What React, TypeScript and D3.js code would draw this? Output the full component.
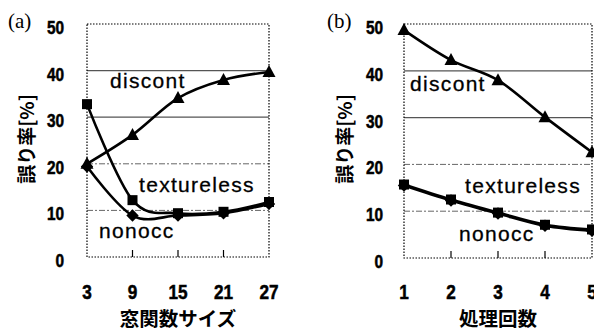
import React from "react";
import * as d3 from "d3";

// ---- data ----
const windowSizes = [3, 9, 15, 21, 27];
const aDiscont = [20, 26.2, 34.1, 38, 39.7];
const aTextureless = [32.8, 12.2, 9.4, 9.7, 11.8];
const aNonocc = [19.4, 8.9, 8.9, 9.4, 11.4];

const iterations = [1, 2, 3, 4, 5];
const bDiscont = [48.7, 42.3, 38, 30.1, 22.6];
const bTextureless = [15.7, 12.5, 9.7, 7.1, 6.1];
const bNonocc = [15.5, 12.3, 9.5, 6.9, 5.8];

const yTicks = [0, 10, 20, 30, 40, 50];
const solidGrid = [30, 40];
const dashedGrid = [10, 20];

type Series = { name: string; values: number[]; marker: "diamond" | "square" | "triangle" };

const W = 594;
const H = 331;

function Marker({ kind, x, y }: { kind: string; x: number; y: number }) {
  if (kind === "triangle") {
    const s = 6.5;
    return <path d={`M${x},${y - 7} L${x + s},${y + 5} L${x - s},${y + 5} Z`} fill="#000" />;
  }
  if (kind === "square") {
    const s = 5;
    return <rect x={x - s} y={y - s} width={s * 2} height={s * 2} fill="#000" />;
  }
  const s = 6.2;
  return <path d={`M${x},${y - s} L${x + s},${y} L${x},${y + s} L${x - s},${y} Z`} fill="#000" />;
}

function Panel({
  tag,
  tagX,
  xs,
  series,
  x0,
  x1,
  y0,
  y1,
  yLabelRight,
  yTitleX,
  xTitle,
  labels,
  ticksInner,
}: {
  tag: string;
  tagX: number;
  xs: number[];
  series: Series[];
  x0: number;
  x1: number;
  y0: number;
  y1: number;
  yLabelRight: number;
  yTitleX: number;
  xTitle: string;
  labels: { text: string; x: number; y: number }[];
  ticksInner: number[];
}) {
  const x = d3.scaleLinear().domain([xs[0], xs[xs.length - 1]]).range([x0, x1]);
  const y = d3.scaleLinear().domain([0, 50]).range([y1, y0]);
  const line = d3
    .line<number>()
    .x((_, i) => x(xs[i]))
    .y((d) => y(d))
    .curve(d3.curveCardinal.tension(0));
  const numFont = "'Liberation Sans', Arial, sans-serif";
  const cjk = "'Noto Sans CJK JP', sans-serif";
  return (
    <g>
      <text x={tagX} y={28} fontFamily="'Liberation Serif', serif" fontSize={21} fill="#000">
        {tag}
      </text>
      {solidGrid.map((v) => (
        <line key={"s" + v} x1={x0} x2={x1} y1={y(v)} y2={y(v)} stroke="#555" strokeWidth={1.3} />
      ))}
      {dashedGrid.map((v) => (
        <line
          key={"d" + v}
          x1={x0}
          x2={x1}
          y1={y(v)}
          y2={y(v)}
          stroke="#666"
          strokeWidth={1}
          strokeDasharray="6 2 2 2"
        />
      ))}
      <rect
        x={x0}
        y={y0}
        width={x1 - x0}
        height={y1 - y0}
        fill="none"
        stroke="#000"
        strokeWidth={1.2}
        strokeDasharray="1.5 1.5"
      />
      {ticksInner.map((v) => (
        <line key={"t" + v} x1={x(v)} x2={x(v)} y1={y1} y2={y1 - 7} stroke="#000" strokeWidth={1.2} />
      ))}
      {series.map((s) => (
        <g key={s.name}>
          <path d={line(s.values) || ""} fill="none" stroke="#000" strokeWidth={2.6} />
          {s.values.map((v, i) => (
            <Marker key={i} kind={s.marker} x={x(xs[i])} y={y(v)} />
          ))}
        </g>
      ))}
      {labels.map((l) => (
        <text
          key={l.text}
          x={x(l.x)}
          y={y(l.y)}
          fontFamily="'Liberation Sans', Arial, sans-serif"
          fontSize={21}
          letterSpacing={1.3}
          fill="#000"
          stroke="#000"
          strokeWidth={0.3}
        >
          {l.text}
        </text>
      ))}
      {yTicks.map((v) => (
        <text
          key={"yl" + v}
          transform={`translate(${yLabelRight},${y(v) + 10}) scale(0.88,1)`}
          textAnchor="end"
          fontFamily={numFont}
          fontWeight="bold"
          fontSize={17.5}
          fill="#000"
          stroke="#000"
          strokeWidth={0.5}
        >
          {v}
        </text>
      ))}
      {xs.map((v) => (
        <text
          key={"xl" + v}
          transform={`translate(${x(v)},${299}) scale(0.86,1)`}
          textAnchor="middle"
          fontFamily={numFont}
          fontWeight="bold"
          fontSize={20}
          fill="#000"
          stroke="#000"
          strokeWidth={0.5}
        >
          {v}
        </text>
      ))}
      <text
        transform={`translate(${yTitleX},${139}) rotate(-90)`}
        textAnchor="middle"
        dominantBaseline="central"
        fontFamily={cjk}
        fontWeight="bold"
        fontSize={19}
        fill="#000"
      >
        誤り率[%]
      </text>
      <text
        x={(x0 + x1) / 2}
        y={326}
        textAnchor="middle"
        fontFamily={cjk}
        fontWeight="bold"
        fontSize={19.5}
        fill="#000"
      >
        {xTitle}
      </text>
    </g>
  );
}

export default function App() {
  const seriesA: Series[] = [
    { name: "nonocc", values: aNonocc, marker: "diamond" },
    { name: "textureless", values: aTextureless, marker: "square" },
    { name: "discont", values: aDiscont, marker: "triangle" },
  ];
  const seriesB: Series[] = [
    { name: "nonocc", values: bNonocc, marker: "diamond" },
    { name: "textureless", values: bTextureless, marker: "square" },
    { name: "discont", values: bDiscont, marker: "triangle" },
  ];
  return (
    <svg
      width={W}
      height={H}
      style={{ position: "absolute", left: 0, top: 0, background: "#fff" }}
    >
      <rect width={W} height={H} fill="#fff" />
      <Panel
        tag="(a)"
        tagX={8}
        xs={windowSizes}
        series={seriesA}
        x0={87}
        x1={269}
        y0={24}
        y1={257}
        yLabelRight={64}
        yTitleX={25}
        xTitle="窓関数サイズ"
        labels={[
          { text: "discont", x: 6.03, y: 36.3 },
          { text: "textureless", x: 9.86, y: 13.95 },
          { text: "nonocc", x: 4.58, y: 4.1 },
        ]}
        ticksInner={[9, 15, 21]}
      />
      <Panel
        tag="(b)"
        tagX={327}
        xs={iterations}
        series={seriesB}
        x0={404}
        x1={592}
        y0={24}
        y1={258}
        yLabelRight={383}
        yTitleX={343}
        xTitle="処理回数"
        labels={[
          { text: "discont", x: 1.13, y: 35.7 },
          { text: "textureless", x: 2.3, y: 13.9 },
          { text: "nonocc", x: 2.17, y: 3.6 },
        ]}
        ticksInner={[2, 3, 4]}
      />
    </svg>
  );
}
